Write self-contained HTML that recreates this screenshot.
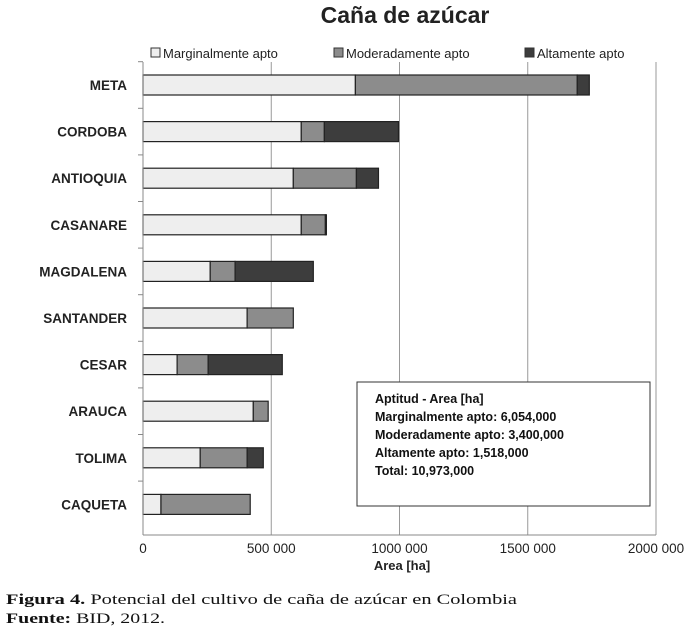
<!DOCTYPE html>
<html><head><meta charset="utf-8"><style>
body{margin:0;background:#fff;width:694px;height:630px;overflow:hidden}
svg{display:block}
text{font-family:"Liberation Sans",sans-serif}
text.serif{font-family:"Liberation Serif",serif}
</style></head><body>
<svg id="chart" width="694" height="630">
<text x="405" y="23" text-anchor="middle" font-size="23" font-weight="bold" fill="#222">Caña de azúcar</text>
<g id="legend">
<rect x="151" y="48" width="9" height="9" fill="#eee" stroke="#333"/>
<text x="163" y="58" font-size="13" fill="#222">Marginalmente apto</text>
<rect x="334" y="48" width="9" height="9" fill="#8c8c8c" stroke="#333"/>
<text x="346" y="58" font-size="13" fill="#222">Moderadamente apto</text>
<rect x="525" y="48" width="9" height="9" fill="#3d3d3d" stroke="#333"/>
<text x="537" y="58" font-size="13" fill="#222">Altamente apto</text>
</g>
<g id="grid"></g><g id="bars"></g><g id="axes"></g>
<g>
<rect x="357" y="382" width="293" height="124" fill="#fff" stroke="#333"/>
<text x="375" y="403" font-size="12.5" font-weight="bold" fill="#111">Aptitud - Area [ha]</text>
<text x="375" y="421" font-size="12.5" font-weight="bold" fill="#111">Marginalmente apto: 6,054,000</text>
<text x="375" y="439" font-size="12.5" font-weight="bold" fill="#111">Moderadamente apto: 3,400,000</text>
<text x="375" y="457" font-size="12.5" font-weight="bold" fill="#111">Altamente apto: 1,518,000</text>
<text x="375" y="475" font-size="12.5" font-weight="bold" fill="#111">Total: 10,973,000</text>
</g>
<text x="402" y="570" text-anchor="middle" font-size="13" font-weight="bold" fill="#222">Area [ha]</text>
<text class="serif" x="6" y="604" font-size="15" fill="#111" textLength="511" lengthAdjust="spacingAndGlyphs"><tspan font-weight="bold">Figura 4.</tspan> Potencial del cultivo de caña de azúcar en Colombia</text>
<text class="serif" x="6" y="623" font-size="15" fill="#111" textLength="159" lengthAdjust="spacingAndGlyphs"><tspan font-weight="bold">Fuente:</tspan> BID, 2012.</text>
</svg>
<script>
const categories=["META","CORDOBA","ANTIOQUIA","CASANARE","MAGDALENA","SANTANDER","CESAR","ARAUCA","TOLIMA","CAQUETA"];
const marginal=[828000,617000,586000,617000,262000,406000,133000,430000,223000,70000];
const moderate=[865000,90000,246000,94000,97000,180000,121000,58000,183000,348000];
const high=[47000,289000,86000,4000,305000,0,289000,0,63000,0];
const ticks=[0,500000,1000000,1500000,2000000];
const tickLabels=["0","500 000","1000 000","1500 000","2000 000"];
const NS="http://www.w3.org/2000/svg";
const X0=143,X1=656,Y0=62,Y1=535,MAX=2000000;
const bandH=46.6;
const xs=v=>X0+v/MAX*(X1-X0);
const yc=i=>85+bandH*i;
function mk(tag,parent,attrs){const e=document.createElementNS(NS,tag);for(const k in attrs)e.setAttribute(k,attrs[k]);parent.appendChild(e);return e;}
const grid=document.getElementById('grid'),bars=document.getElementById('bars'),axes=document.getElementById('axes');
ticks.forEach((t,i)=>{
  if(i>0){const g=mk('line',grid,{x1:xs(t),x2:xs(t),y1:Y0,y2:Y1,stroke:'#999','stroke-width':1});
  
  }
  const tl=mk('text',axes,{x:xs(t),y:Y1+18,'text-anchor':'middle','font-size':13.5,fill:'#222'});
  tl.textContent=tickLabels[i];
  
  
});
const ax=mk('line',axes,{x1:X0,x2:X1,y1:Y1,y2:Y1,stroke:'#888'});


const ay=mk('line',axes,{x1:X0,x2:X0,y1:Y0,y2:Y1,stroke:'#888'});


const series=[[marginal,'#eeeeee','marginal'],[moderate,'#8c8c8c','moderate'],[high,'#3d3d3d','high']];
categories.forEach((c,i)=>{
  const ty=yc(i)-bandH/2;
  const tk=mk('line',axes,{x1:X0-5,x2:X0,y1:ty,y2:ty,stroke:'#888'});
  
  
  const lb=mk('text',axes,{x:127,y:yc(i)+5,'text-anchor':'end','font-size':13.5,'font-weight':'bold',fill:'#222'});
  lb.textContent=c;
  
  
  let acc=0;
  series.forEach(([arr,col,nm])=>{
    const v=arr[i];if(v<=0)return;
    const r=mk('rect',bars,{x:xs(acc),y:yc(i)-10,width:xs(acc+v)-xs(acc),height:20,fill:col,stroke:'#222','stroke-width':1.2});
    
    
    acc+=v;
  });
});
</script>
</body></html>
